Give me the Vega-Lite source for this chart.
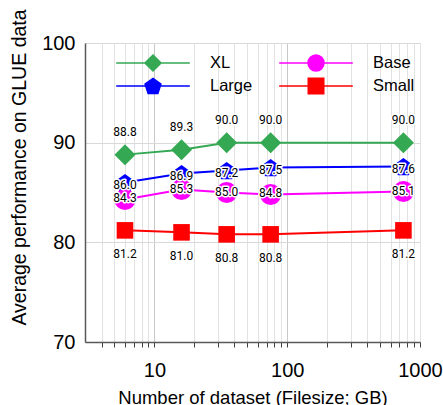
{
  "$schema": "https://vega.github.io/schema/vega-lite/v6.json",
  "width": 335,
  "height": 299,
  "autosize": "none",
  "padding": {"left": 85, "top": 43, "right": 23, "bottom": 63},
  "background": "white",
  "config": {"view": {"stroke": "#d9d9d9", "strokeWidth": 1}, "font": "Liberation Sans"},
  "data": {
    "values": [
      {"model": "XL", "size": 6, "score": 88.8},
      {"model": "XL", "size": 16, "score": 89.3},
      {"model": "XL", "size": 35, "score": 90.0},
      {"model": "XL", "size": 75, "score": 90.0},
      {"model": "XL", "size": 750, "score": 90.0},
      {"model": "Large", "size": 6, "score": 86.0},
      {"model": "Large", "size": 16, "score": 86.9},
      {"model": "Large", "size": 35, "score": 87.2},
      {"model": "Large", "size": 75, "score": 87.5},
      {"model": "Large", "size": 750, "score": 87.6},
      {"model": "Base", "size": 6, "score": 84.3},
      {"model": "Base", "size": 16, "score": 85.3},
      {"model": "Base", "size": 35, "score": 85.0},
      {"model": "Base", "size": 75, "score": 84.8},
      {"model": "Base", "size": 750, "score": 85.1},
      {"model": "Small", "size": 6, "score": 81.2},
      {"model": "Small", "size": 16, "score": 81.0},
      {"model": "Small", "size": 35, "score": 80.8},
      {"model": "Small", "size": 75, "score": 80.8},
      {"model": "Small", "size": 750, "score": 81.2}
    ]
  },
  "encoding": {
    "x": {
      "field": "size",
      "type": "quantitative",
      "scale": {"type": "log", "domain": [3, 1000], "nice": false},
      "axis": {
        "title": "Number of dataset (Filesize; GB)",
        "titleFont": "Liberation Sans",
        "titleFontSize": 18.5,
        "titleFontWeight": "normal",
        "titleColor": "black",
        "titleX": 167.5,
        "titleY": 61,
        "titleAlign": "center",
        "titleBaseline": "alphabetic",
        "values": [4, 5, 6, 7, 8, 9, 10, 20, 30, 40, 50, 60, 70, 80, 90, 100, 200, 300, 400, 500, 600, 700, 800, 900, 1000],
        "labelExpr": "datum.value == 10 ? '10' : datum.value == 100 ? '100' : datum.value == 1000 ? '1000' : ''",
        "labelFont": "Liberation Sans",
        "labelFontSize": 20,
        "labelColor": "black",
        "labelBaseline": "alphabetic",
        "labelAlign": "center",
        "labelPadding": 29,
        "labelFlush": false,
        "labelOverlap": false,
        "domainColor": "#595959",
        "domainWidth": 1.5,
        "tickColor": "#404040",
        "tickSize": 5,
        "tickWidth": 1,
        "grid": true,
        "gridColor": {"condition": {"test": "datum.value == 10 || datum.value == 100", "value": "#c8c8c8"}, "value": "#e2e2e2"},
        "gridWidth": 1,
        "encode": {
          "ticks": {
            "update": {
              "y": {"signal": "(datum.value == 10 || datum.value == 100 || datum.value == 1000) ? -5.5 : -3"},
              "y2": {"signal": "(datum.value == 10 || datum.value == 100 || datum.value == 1000) ? 5.5 : 3"},
              "strokeWidth": {"signal": "(datum.value == 10 || datum.value == 100 || datum.value == 1000) ? 1.6 : 1"}
            }
          }
        }
      }
    },
    "y": {
      "field": "score",
      "type": "quantitative",
      "scale": {"domain": [70, 100], "nice": false},
      "axis": {
        "title": "Average performance on GLUE data",
        "titleFont": "Liberation Sans",
        "titleFontSize": 19.5,
        "titleFontWeight": "normal",
        "titleColor": "black",
        "titleX": -66,
        "titleY": 124,
        "titleAngle": -90,
        "titleAlign": "center",
        "titleBaseline": "middle",
        "values": [70, 80, 90, 100],
        "labelFont": "Liberation Sans",
        "labelFontSize": 20,
        "labelColor": "black",
        "labelPadding": 10,
        "labelFlush": false,
        "ticks": false,
        "domainColor": "#595959",
        "domainWidth": 1.5,
        "grid": true,
        "gridColor": "#d9d9d9",
        "gridWidth": 1
      }
    },
    "color": {
      "field": "model",
      "type": "nominal",
      "scale": {"domain": ["XL", "Large", "Base", "Small"], "range": ["#34a853", "#0000ff", "#ff00ff", "#ff0000"]},
      "legend": {
        "title": null,
        "orient": "none",
        "legendX": 31,
        "legendY": 11,
        "columns": 2,
        "padding": 0,
        "symbolSize": 256,
        "symbolStrokeWidth": 1.5,
        "symbolOffset": 28,
        "labelOffset": 48,
        "columnPadding": 23,
        "rowPadding": 1,
        "labelFont": "Liberation Sans",
        "labelFontSize": 16.5,
        "labelColor": "black",
        "labelLimit": 0,
        "encode": {
          "symbols": {
            "update": {
              "shape": {"signal": "datum.value === 'XL' ? 'M-4.6,0H4.6M0,-1L1,0L0,1L-1,0Z' : datum.value === 'Base' ? 'M-4.6,0H4.6M1,0A1,1,0,1,1,-1,0A1,1,0,1,1,1,0Z' : datum.value === 'Large' ? 'M-4.6,0H4.6M0,-0.95L0.99,-0.23L0.61,0.93L-0.61,0.93L-0.99,-0.23Z' : 'M-4.6,0H4.6M-0.97,-0.97H0.97V0.97H-0.97Z'"},
              "strokeWidth": {"value": 1.5},
              "opacity": {"value": 1},
              "fillOpacity": {"value": 1},
              "strokeOpacity": {"value": 1}
            }
          }
        }
      }
    }
  },
  "layer": [
    {
      "mark": {"type": "line", "strokeWidth": 2}
    },
    {
      "mark": {"type": "point", "filled": true, "opacity": 1, "size": 441},
      "encoding": {
        "shape": {
          "field": "model",
          "type": "nominal",
          "scale": {
            "domain": ["Small", "Base", "Large", "XL"],
            "range": [
              "M-0.79,-0.79H0.79V0.79H-0.79Z",
              "circle",
              "M0,-0.818L0.861,-0.193L0.532,0.819L-0.532,0.819L-0.861,-0.193Z",
              "diamond"
            ]
          },
          "legend": null
        }
      }
    },
    {
      "transform": [{"filter": "datum.model === 'XL'"}],
      "layer": [
        {"mark": {"type": "text", "dy": -22.5, "font": "Roboto", "fontSize": 12, "fill": "white", "stroke": "white", "strokeWidth": 3, "strokeJoin": "round"}, "encoding": {"text": {"field": "score", "type": "quantitative", "format": ".1f"}, "color": {"value": "white"}}},
        {"mark": {"type": "text", "dy": -22.5, "font": "Roboto", "fontSize": 12}, "encoding": {"text": {"field": "score", "type": "quantitative", "format": ".1f"}, "color": {"value": "black"}}}
      ]
    },
    {
      "transform": [{"filter": "datum.model === 'Large'"}],
      "layer": [
        {"mark": {"type": "text", "dy": 2, "font": "Roboto", "fontSize": 12, "fill": "white", "stroke": "white", "strokeWidth": 3, "strokeJoin": "round"}, "encoding": {"text": {"field": "score", "type": "quantitative", "format": ".1f"}, "color": {"value": "white"}}},
        {"mark": {"type": "text", "dy": 2, "font": "Roboto", "fontSize": 12}, "encoding": {"text": {"field": "score", "type": "quantitative", "format": ".1f"}, "color": {"value": "black"}}}
      ]
    },
    {
      "transform": [{"filter": "datum.model === 'Base'"}],
      "layer": [
        {"mark": {"type": "text", "dy": -1, "font": "Roboto", "fontSize": 12, "fill": "white", "stroke": "white", "strokeWidth": 3, "strokeJoin": "round"}, "encoding": {"text": {"field": "score", "type": "quantitative", "format": ".1f"}, "color": {"value": "white"}}},
        {"mark": {"type": "text", "dy": -1, "font": "Roboto", "fontSize": 12}, "encoding": {"text": {"field": "score", "type": "quantitative", "format": ".1f"}, "color": {"value": "black"}}}
      ]
    },
    {
      "transform": [{"filter": "datum.model === 'Small'"}],
      "layer": [
        {"mark": {"type": "text", "dy": 24, "font": "Roboto", "fontSize": 12, "fill": "white", "stroke": "white", "strokeWidth": 3, "strokeJoin": "round"}, "encoding": {"text": {"field": "score", "type": "quantitative", "format": ".1f"}, "color": {"value": "white"}}},
        {"mark": {"type": "text", "dy": 24, "font": "Roboto", "fontSize": 12}, "encoding": {"text": {"field": "score", "type": "quantitative", "format": ".1f"}, "color": {"value": "black"}}}
      ]
    }
  ]
}
